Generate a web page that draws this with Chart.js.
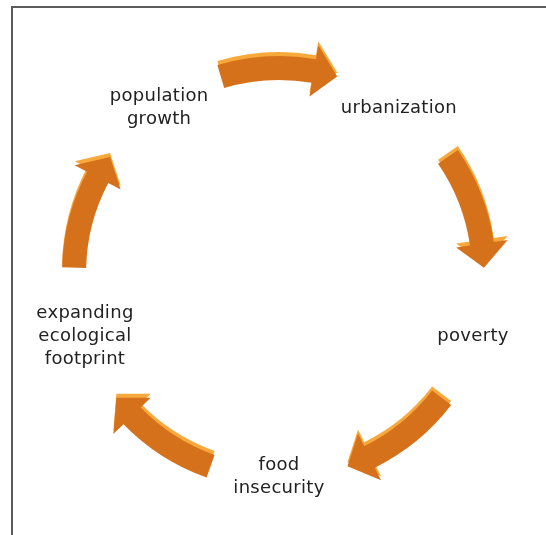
<!DOCTYPE html>
<html lang="en">
<head>
    <meta charset="UTF-8">
    <title>Cycle</title>
    <script src="https://cdn.jsdelivr.net/npm/chart.js"></script>
    <style>
        body { margin: 0; background: #fff; }
        #frame { position: absolute; left: 11px; top: 6px; width: 540px; height: 535px;
                 border-left: 2px solid #5c5c5c; border-top: 2px solid #5c5c5c; }
        #cycleChart { position: absolute; left: 0; top: 0; }
    </style>
</head>
<body>
    <div id="frame"></div>
    <canvas id="cycleChart" width="546" height="535"></canvas>

    <script>
        // stages of the cycle, clockwise from top-left
        var stages = [
            ['population', 'growth'],
            ['urbanization'],
            ['poverty'],
            ['food', 'insecurity'],
            ['expanding', 'ecological', 'footprint']
        ];
        // each arrow goes from one stage to the next
        var links = [[0, 1], [1, 2], [2, 3], [3, 4], [4, 0]];

        var darkOrange = '#d5711b';
        var lightOrange = '#f8a93c';

        function arrowPath(ctx, scale, from, to) {
            var mid = from + ((to - from + stages.length) % stages.length) / 2;
            var R = scale.drawingArea;
            var a = scale.getIndexAngle(mid) - Math.PI / 2;
            var span = 16.5 * Math.PI / 180;
            var a0 = a - span, a1 = a + span;
            var ah = a1 - 24 / R;
            var w = 12, hw = 26;
            var cx = scale.xCenter, cy = scale.yCenter;
            function pt(r, ang) { return [cx + r * Math.cos(ang), cy + r * Math.sin(ang)]; }
            ctx.beginPath();
            ctx.arc(cx, cy, R + w, a0, ah, false);
            var p = pt(R + hw, ah); ctx.lineTo(p[0], p[1]);
            p = pt(R, a1); ctx.lineTo(p[0], p[1]);
            p = pt(R - hw, ah); ctx.lineTo(p[0], p[1]);
            p = pt(R - w, ah); ctx.lineTo(p[0], p[1]);
            ctx.arc(cx, cy, R - w, ah, a0, true);
            ctx.closePath();
        }

        var cyclePlugin = {
            id: 'cycle',
            afterDraw: function(chart) {
                var ctx = chart.ctx;
                var scale = chart.scales.r;
                links.forEach(function(l) {
                    ctx.save();
                    ctx.translate(0, -4);
                    ctx.fillStyle = lightOrange;
                    arrowPath(ctx, scale, l[0], l[1]);
                    ctx.fill();
                    ctx.restore();
                    ctx.fillStyle = darkOrange;
                    arrowPath(ctx, scale, l[0], l[1]);
                    ctx.fill();
                });
                ctx.save();
                ctx.font = "18px 'DejaVu Sans'";
                ctx.letterSpacing = '0.3px';
                ctx.fillStyle = '#222';
                ctx.textAlign = 'center';
                ctx.textBaseline = 'middle';
                var lineH = 23;
                stages.forEach(function(lines, i) {
                    var p = scale.getPointPosition(i, scale.drawingArea - 1);
                    var y0 = p.y - (lines.length - 1) * lineH / 2;
                    lines.forEach(function(t, k) {
                        ctx.fillText(t, p.x, y0 + k * lineH);
                    });
                });
                ctx.restore();
            }
        };

        var ctx = document.getElementById('cycleChart').getContext('2d');
        var myChart = new Chart(ctx, {
            type: 'radar',
            data: {
                labels: stages,
                datasets: [{
                    data: stages.map(function() { return 0; }),
                    borderWidth: 0,
                    pointRadius: 0,
                    backgroundColor: 'rgba(0,0,0,0)'
                }]
            },
            options: {
                responsive: false,
                animation: false,
                layout: { padding: { left: 60, right: 47, top: 68, bottom: 57 } },
                plugins: { legend: { display: false }, tooltip: { enabled: false } },
                scales: {
                    r: {
                        min: 0,
                        max: 1,
                        startAngle: -36,
                        ticks: { display: false },
                        grid: { display: false },
                        angleLines: { display: false },
                        pointLabels: { display: false }
                    }
                }
            },
            plugins: [cyclePlugin]
        });
    </script>
</body>
</html>
